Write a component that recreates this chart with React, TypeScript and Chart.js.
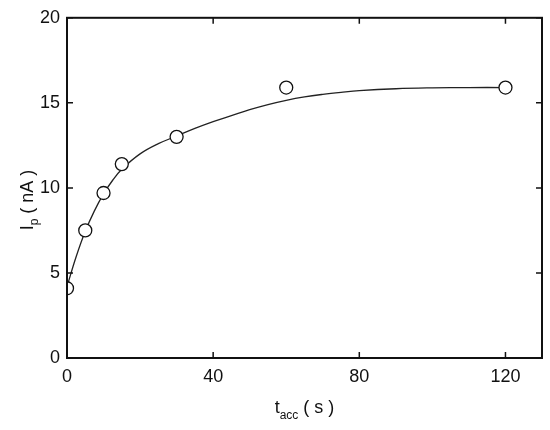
import React, { useEffect, useRef } from "react";
import { Chart, registerables } from "chart.js";

Chart.register(...registerables);

const X_TICKS = [0, 40, 80, 120];
const Y_TICKS = [0, 5, 10, 15, 20];

const MEAS_T = [0, 5, 10, 15, 30, 60, 120];
const MEAS_IP = [4.1, 7.5, 9.7, 11.4, 13.0, 15.9, 15.9];

const FIT_T = [0, 2.5, 5, 7.5, 10, 12.5, 15, 20, 25, 30, 35, 40, 45, 50, 55, 60, 65, 70, 75, 80, 90, 100, 110, 120];
const FIT_IP = [4.2, 5.95, 7.45, 8.65, 9.65, 10.45, 11.1, 12.0, 12.6, 13.05, 13.5, 13.9, 14.25, 14.6, 14.9, 15.15, 15.35, 15.5, 15.62, 15.72, 15.83, 15.88, 15.9, 15.9];

const FONT = "'Liberation Sans', Arial, sans-serif";

const framePlugin = {
  id: "frame",
  afterDatasetsDraw(chart: any) {
    const { ctx, chartArea: a, scales } = chart;
    const xs = scales.x;
    const ys = scales.y;
    ctx.save();
    ctx.strokeStyle = "#111";
    ctx.lineWidth = 2;
    ctx.strokeRect(a.left, a.top, a.right - a.left, a.bottom - a.top);
    ctx.lineWidth = 1.5;
    const L = 6;
    ctx.beginPath();
    X_TICKS.forEach((v) => {
      const px = xs.getPixelForValue(v);
      ctx.moveTo(px, a.bottom);
      ctx.lineTo(px, a.bottom - L);
      ctx.moveTo(px, a.top);
      ctx.lineTo(px, a.top + L);
    });
    Y_TICKS.forEach((v) => {
      const py = ys.getPixelForValue(v);
      ctx.moveTo(a.left, py);
      ctx.lineTo(a.left + L, py);
      ctx.moveTo(a.right, py);
      ctx.lineTo(a.right - L, py);
    });
    ctx.stroke();

    ctx.fillStyle = "#111";
    ctx.textBaseline = "alphabetic";
    ctx.textAlign = "left";
    const big = `18px ${FONT}`;
    const small = `12px ${FONT}`;
    {
      const parts = [
        { t: "t", f: big, dy: 0 },
        { t: "acc", f: small, dy: 6 },
        { t: " ( s )", f: big, dy: 0 },
      ];
      let w = 0;
      parts.forEach((p) => {
        ctx.font = p.f;
        w += ctx.measureText(p.t).width;
      });
      let x = (a.left + a.right) / 2 - w / 2;
      const base = 413;
      parts.forEach((p) => {
        ctx.font = p.f;
        ctx.fillText(p.t, x, base + p.dy);
        x += ctx.measureText(p.t).width;
      });
    }
    {
      const parts = [
        { t: "I", f: big, dy: 0 },
        { t: "p", f: small, dy: 5 },
        { t: " ( nA )", f: big, dy: 0 },
      ];
      let w = 0;
      parts.forEach((p) => {
        ctx.font = p.f;
        w += ctx.measureText(p.t).width;
      });
      ctx.translate(33, 200);
      ctx.rotate(-Math.PI / 2);
      let x = -w / 2;
      parts.forEach((p) => {
        ctx.font = p.f;
        ctx.fillText(p.t, x, p.dy);
        x += ctx.measureText(p.t).width;
      });
    }
    ctx.restore();
  },
};

export default function App() {
  const ref = useRef<HTMLCanvasElement | null>(null);
  useEffect(() => {
    if (!ref.current) return;
    const chart = new Chart(ref.current, {
      type: "scatter",
      data: {
        datasets: [
          {
            label: "measured",
            data: MEAS_T.map((t, i) => ({ x: t, y: MEAS_IP[i] })),
            pointStyle: "circle",
            pointRadius: 6.5,
            pointBorderWidth: 1.3,
            pointBackgroundColor: "#fff",
            pointBorderColor: "#111",
            showLine: false,
            order: 0,
          },
          {
            label: "fit",
            data: FIT_T.map((t, i) => ({ x: t, y: FIT_IP[i] })),
            showLine: true,
            pointRadius: 0,
            borderColor: "#222",
            borderWidth: 1.3,
            tension: 0.4,
            order: 1,
          } as any,
        ],
      },
      plugins: [framePlugin],
      options: {
        responsive: false,
        animation: false,
        layout: { padding: { top: 16, right: 8, left: 0, bottom: 0 } },
        plugins: { legend: { display: false }, tooltip: { enabled: false } },
        scales: {
          x: {
            type: "linear",
            min: 0,
            max: 130,
            afterBuildTicks: (s: any) => {
              s.ticks = X_TICKS.map((v) => ({ value: v }));
            },
            afterFit: (s: any) => {
              s.height = 72;
            },
            grid: { display: false, drawTicks: false },
            border: { display: false },
            ticks: {
              padding: 8,
              color: "#111",
              font: { family: FONT, size: 18 },
              maxRotation: 0,
            },
          },
          y: {
            type: "linear",
            min: 0,
            max: 20,
            afterBuildTicks: (s: any) => {
              s.ticks = Y_TICKS.map((v) => ({ value: v }));
            },
            afterFit: (s: any) => {
              s.width = 67;
            },
            grid: { display: false, drawTicks: false },
            border: { display: false },
            ticks: {
              padding: 7,
              color: "#111",
              font: { family: FONT, size: 18 },
            },
          },
        },
      },
    });
    return () => chart.destroy();
  }, []);
  return (
    <div style={{ position: "fixed", left: 0, top: 0, width: 550, height: 430, background: "#fff" }}>
      <canvas ref={ref} width={550} height={430} />
    </div>
  );
}
